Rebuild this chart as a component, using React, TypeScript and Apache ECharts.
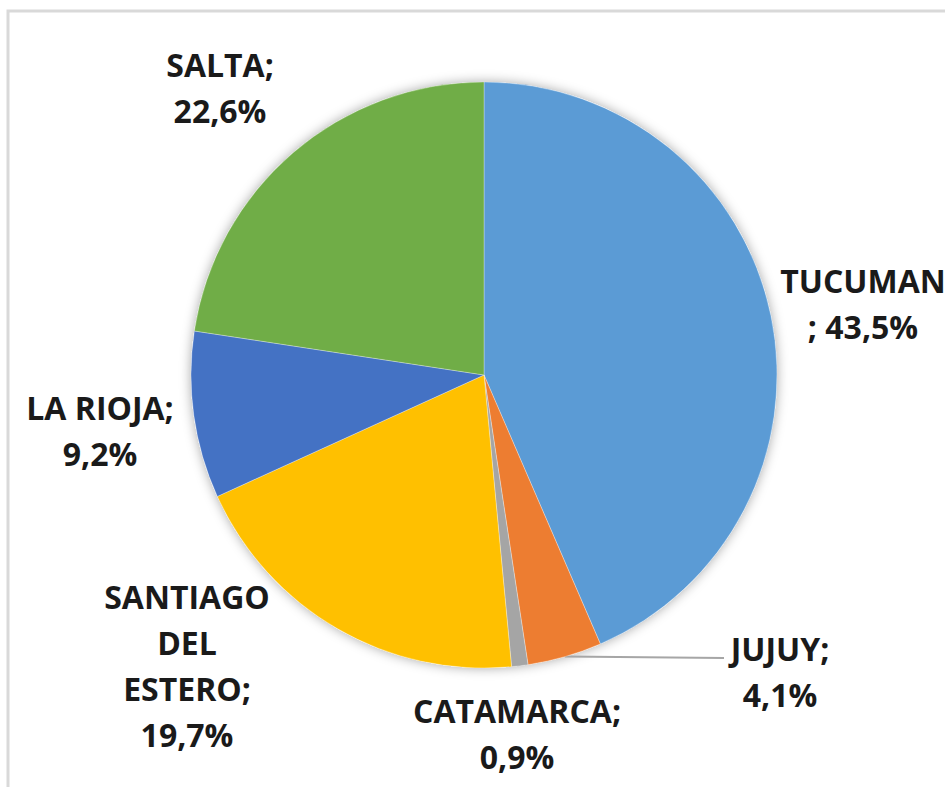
import React, { useEffect, useRef } from "react";
import * as echarts from "echarts";

const categories = ["TUCUMAN", "JUJUY", "CATAMARCA", "SANTIAGO DEL ESTERO", "LA RIOJA", "SALTA"];
const shares = [43.5, 4.1, 0.9, 19.7, 9.2, 22.6];
const labelHeads = ["TUCUMAN\n; ", "JUJUY;\n", "CATAMARCA;\n", "SANTIAGO\nDEL\nESTERO;\n", "LA RIOJA;\n", "SALTA;\n"];
const colors = ["#5B9BD5", "#ED7D31", "#A5A5A5", "#FFC000", "#4472C4", "#70AD47"];
// label block centres (layout only)
const labelCenters: [number, number][] = [
  [863, 303],
  [780, 671],
  [517, 733],
  [187, 665],
  [100, 430],
  [220, 87],
];

export default function App() {
  const ref = useRef<HTMLDivElement>(null);
  useEffect(() => {
    if (!ref.current) return;
    const chart = echarts.init(ref.current, undefined, { renderer: "svg" });
    const center = [484, 375];
    const radius = 293;
    chart.setOption({
      animation: false,
      backgroundColor: "#ffffff",
      graphic: [
        {
          type: "rect",
          z: -10,
          shape: { x: 8, y: 11, width: 1200, height: 1200 },
          style: { fill: "none", stroke: "#d9d9d9", lineWidth: 3 },
          silent: true,
        },
      ],
      series: [
        {
          type: "pie",
          silent: true,
          center,
          radius,
          z: 1,
          label: { show: false },
          labelLine: { show: false },
          data: [{ value: 1, itemStyle: { color: "#ffffff", shadowBlur: 12, shadowColor: "rgba(0,0,0,0.35)" } }],
        },
        {
          type: "pie",
          center,
          radius,
          z: 2,
          startAngle: 90,
          clockwise: true,
          avoidLabelOverlap: false,
          itemStyle: { borderColor: "rgba(255,255,255,0.5)", borderWidth: 0.6 },
          label: {
            show: true,
            position: "outside",
            color: "#1a1a1a",
            fontFamily: "Open Sans",
            fontWeight: "bold",
            fontSize: 32,
            lineHeight: 46,
            align: "center",
            formatter: (p: any) =>
              labelHeads[p.dataIndex] + shares[p.dataIndex].toFixed(1).replace(".", ",") + "%",
          },
          labelLine: { show: false },
          labelLayout: (p: any) => {
            const c = labelCenters[p.dataIndex];
            const out: any = { x: c[0], y: c[1], align: "center", verticalAlign: "middle" };
            if (p.dataIndex === 1 && p.labelLinePoints) {
              const s = p.labelLinePoints[0];
              const e = [724, 658];
              out.labelLinePoints = [s, [(s[0] + e[0]) / 2, (s[1] + e[1]) / 2], e];
            }
            return out;
          },
          data: categories.map((name, i) => ({
            name,
            value: shares[i],
            itemStyle: { color: colors[i] },
            labelLine:
              i === 1
                ? { show: true, length: 10, length2: 10, lineStyle: { color: "#a6a6a6", width: 2 } }
                : { show: false },
          })),
        },
      ],
    });
    return () => chart.dispose();
  }, []);
  return (
    <div
      ref={ref}
      style={{ position: "fixed", left: 0, top: 0, width: 945, height: 787 }}
    />
  );
}
